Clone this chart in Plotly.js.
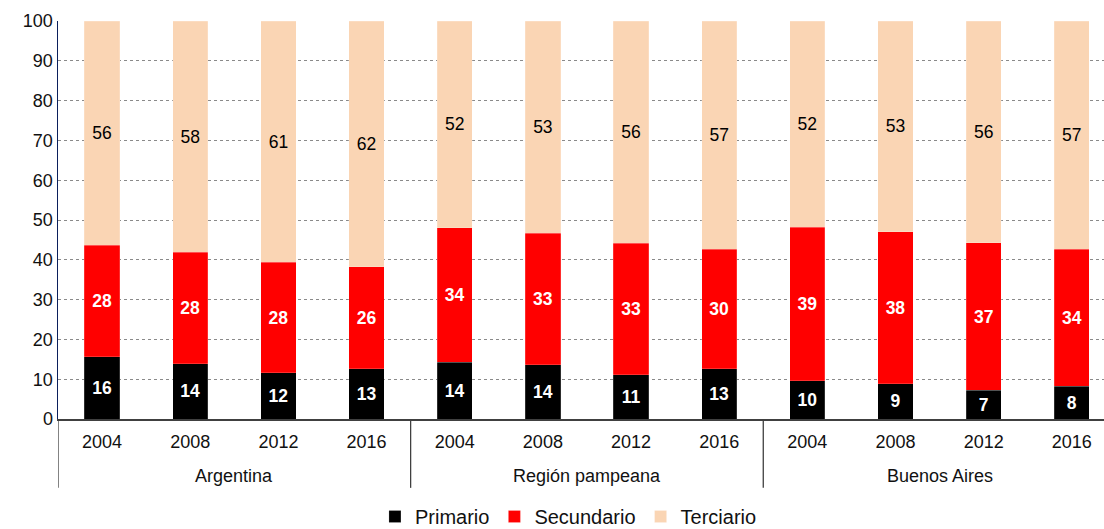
<!DOCTYPE html>
<html>
<head>
<meta charset="utf-8">
<script src="https://cdn.plot.ly/plotly-3.0.1.min.js"></script>
<style>html,body{margin:0;padding:0;background:#fff;}#chart{width:1104px;height:529px;}</style>
</head>
<body>
<div id="chart"></div>
<script>
const groups = ["Argentina","Argentina","Argentina","Argentina",
                "Región pampeana","Región pampeana","Región pampeana","Región pampeana",
                "Buenos Aires","Buenos Aires","Buenos Aires","Buenos Aires"];
const years = ["2004","2008","2012","2016","2004","2008","2012","2016","2004","2008","2012","2016"];
const primario   = [15.65, 13.9, 11.6, 12.6, 14.3, 13.6, 11.1, 12.6, 9.6, 8.9, 7.2, 8.2];
const secundario = [27.95, 28.0, 27.8, 25.6, 33.7, 33.1, 33.0, 30.1, 38.6, 38.1, 37.1, 34.4];
const terciario  = [56.4, 58.1, 60.6, 61.8, 52.0, 53.3, 55.9, 57.3, 51.8, 53.0, 55.7, 57.4];

const FONT = "Liberation Sans, Arial, sans-serif";
const idx = years.map((_, i) => i);

function tr(name, y, color, textColor, bold) {
  return {
    type: "bar", name: name, x: idx, y: y, width: 0.4,
    marker: {color: color, line: {color: "rgba(255,255,255,0.35)", width: 0.5}},
    texttemplate: bold ? "<b>%{y:.0f}</b>" : "%{y:.0f}",
    textposition: "inside", insidetextanchor: "middle",
    textangle: 0,
    insidetextfont: {family: FONT, size: 17.5, color: textColor},
    hoverinfo: "skip"
  };
}

const data = [
  tr("Primario", primario, "#000000", "#ffffff", true),
  tr("Secundario", secundario, "#ff0000", "#ffffff", true),
  tr("Terciario", terciario, "#fad5b4", "#000000", false)
];

// group spans derived from the groups array
const spans = [];
groups.forEach((g, i) => {
  if (!spans.length || spans[spans.length - 1].name !== g) spans.push({name: g, start: i, end: i});
  else spans[spans.length - 1].end = i;
});

const shapes = [];
const annotations = [];
spans.forEach((s) => {
  shapes.push({type: "line", xref: "x", yref: "paper", x0: s.start - 0.5, x1: s.start - 0.5,
               y0: 0, y1: -0.173, line: {color: "#404040", width: 1.3}});
  annotations.push({xref: "x", yref: "paper", x: (s.start + s.end) / 2, y: -0.143,
                    xanchor: "center", yanchor: "middle", showarrow: false, text: s.name,
                    font: {family: FONT, size: 18, color: "#111"}});
});

const layout = {
  width: 1104, height: 529,
  margin: {l: 58, r: 0, t: 21, b: 110, autoexpand: false},
  paper_bgcolor: "#ffffff", plot_bgcolor: "#ffffff",
  barmode: "stack",
  font: {family: FONT, size: 18, color: "#111"},
  xaxis: {
    type: "linear",
    range: [-0.5, 11.365],
    tickmode: "array", tickvals: idx, ticktext: years,
    showline: true, linecolor: "#404040", linewidth: 1.5,
    ticks: "outside", ticklen: 6, tickcolor: "rgba(0,0,0,0)",
    tickfont: {family: FONT, size: 18, color: "#111"},
    showgrid: false, zeroline: false, automargin: false
  },
  yaxis: {
    range: [0, 100], dtick: 10, tick0: 0,
    showgrid: true, gridcolor: "#8a8a8a", gridwidth: 1, griddash: "dot",
    showline: true, linecolor: "#0b1f5c", linewidth: 1.5,
    ticks: "",
    tickfont: {family: FONT, size: 18, color: "#111"},
    zeroline: false, automargin: false
  },
  shapes: shapes,
  annotations: annotations,
  showlegend: true,
  legend: {
    orientation: "h", x: 0.488, xanchor: "center", y: -0.245, yanchor: "middle",
    traceorder: "normal", font: {family: FONT, size: 20, color: "#111"},
    itemwidth: 30, tracegroupgap: 0
  }
};

Plotly.newPlot("chart", data, layout, {displayModeBar: false, staticPlot: true});
</script>
</body>
</html>
